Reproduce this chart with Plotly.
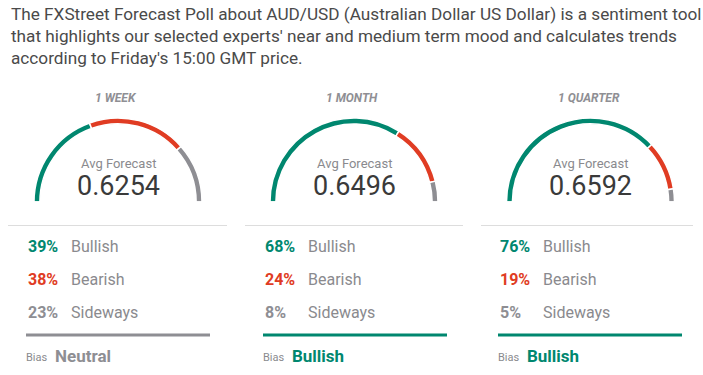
import plotly.graph_objects as go

# ---- data ----
horizons = ["1 WEEK", "1 MONTH", "1 QUARTER"]
avg_forecast = ["0.6254", "0.6496", "0.6592"]
bullish = [39, 68, 76]
bearish = [38, 24, 19]
sideways = [23, 8, 5]
bias = ["Neutral", "Bullish", "Bullish"]
title_lines = [
    "The FXStreet Forecast Poll about AUD/USD (Australian Dollar US Dollar) is a sentiment tool",
    "that highlights our selected experts' near and medium term mood and calculates trends",
    "according to Friday's 15:00 GMT price.",
]

W, H = 703, 375
TEAL = "#00876f"
RED = "#e03c23"
GRAY = "#8e8e93"
LABEL = "#8a8a8e"
DARK = "#3a3a3a"
FONT = "Roboto"

# layout geometry (page pixels)
gauge_cx = [118, 354, 590.5]
gauge_cy = 202
gauge_r = 84
panel_sep = [(8, 227), (245, 463), (481, 693)]
panel_x = [26, 263, 498]
label_dx = 43
row_y = [246, 279, 312]
title_y = [14, 36, 58]

def px(x):
    return x / W

def py(y):
    return 1 - y / H

fig = go.Figure()
annotations = []
shapes = []

for i in range(3):
    cx = gauge_cx[i]
    fig.add_trace(go.Pie(
        values=[bullish[i], bearish[i], sideways[i], bullish[i] + bearish[i] + sideways[i]],
        marker=dict(colors=[TEAL, RED, GRAY, "rgba(0,0,0,0)"],
                    line=dict(color="white", width=1.5)),
        hole=0.93,
        sort=False,
        direction="clockwise",
        rotation=-90,
        textinfo="none",
        hoverinfo="none",
        showlegend=False,
        domain=dict(x=[px(cx - gauge_r), px(cx + gauge_r)],
                    y=[py(gauge_cy + gauge_r), py(gauge_cy - gauge_r)]),
    ))
    annotations.append(dict(x=px(cx - 2), y=py(98), text=f"<b>{horizons[i]}</b>", showarrow=False,
                            xanchor="center", yanchor="middle",
                            font=dict(family=FONT, size=12, color="#8f8f94", style="italic")))
    annotations.append(dict(x=px(cx), y=py(163), text="Avg Forecast", showarrow=False,
                            xanchor="center", yanchor="middle",
                            font=dict(family=FONT, size=13, color=LABEL)))
    annotations.append(dict(x=px(cx), y=py(186), text=avg_forecast[i], showarrow=False,
                            xanchor="center", yanchor="middle",
                            font=dict(family=FONT, size=27, color=DARK)))

    x0 = panel_x[i]
    vals = [bullish[i], bearish[i], sideways[i]]
    names = ["Bullish", "Bearish", "Sideways"]
    cols = [TEAL, RED, GRAY]
    for j in range(3):
        annotations.append(dict(x=px(x0), y=py(row_y[j]), text=f"<b>{vals[j]}%</b>",
                                showarrow=False, xanchor="left", yanchor="middle",
                                font=dict(family=FONT, size=16, color=cols[j])))
        annotations.append(dict(x=px(x0 + label_dx), y=py(row_y[j]), text=names[j],
                                showarrow=False, xanchor="left", yanchor="middle",
                                font=dict(family=FONT, size=16, color=LABEL)))
    bias_col = GRAY if bias[i] == "Neutral" else TEAL
    annotations.append(dict(x=px(x0 - 2), y=py(357), text="Bias", showarrow=False,
                            xanchor="left", yanchor="middle",
                            font=dict(family=FONT, size=11, color=LABEL)))
    annotations.append(dict(x=px(x0 + 27), y=py(356), text=f"<b>{bias[i]}</b>", showarrow=False,
                            xanchor="left", yanchor="middle",
                            font=dict(family=FONT, size=17, color=bias_col)))
    s0, s1 = panel_sep[i]
    shapes.append(dict(type="line", xref="paper", yref="paper",
                       x0=px(s0), x1=px(s1), y0=py(225.5), y1=py(225.5),
                       line=dict(color="#dddddd", width=1)))
    shapes.append(dict(type="line", xref="paper", yref="paper",
                       x0=px(x0), x1=px(x0 + 184), y0=py(335), y1=py(335),
                       line=dict(color=bias_col, width=3)))

for line, ty in zip(title_lines, title_y):
    annotations.append(dict(x=px(9), y=py(ty), text=line, showarrow=False,
                            xanchor="left", yanchor="middle", align="left",
                            font=dict(family=FONT, size=17.2, color="#4a4a4a")))

fig.update_layout(
    width=W, height=H,
    margin=dict(l=0, r=0, t=0, b=0),
    paper_bgcolor="white", plot_bgcolor="white",
    annotations=annotations, shapes=shapes,
    xaxis=dict(visible=False), yaxis=dict(visible=False),
)
fig.write_html("out.html", config={"displayModeBar": False},
               post_script="document.body.style.margin='0';document.body.style.overflow='hidden';")
